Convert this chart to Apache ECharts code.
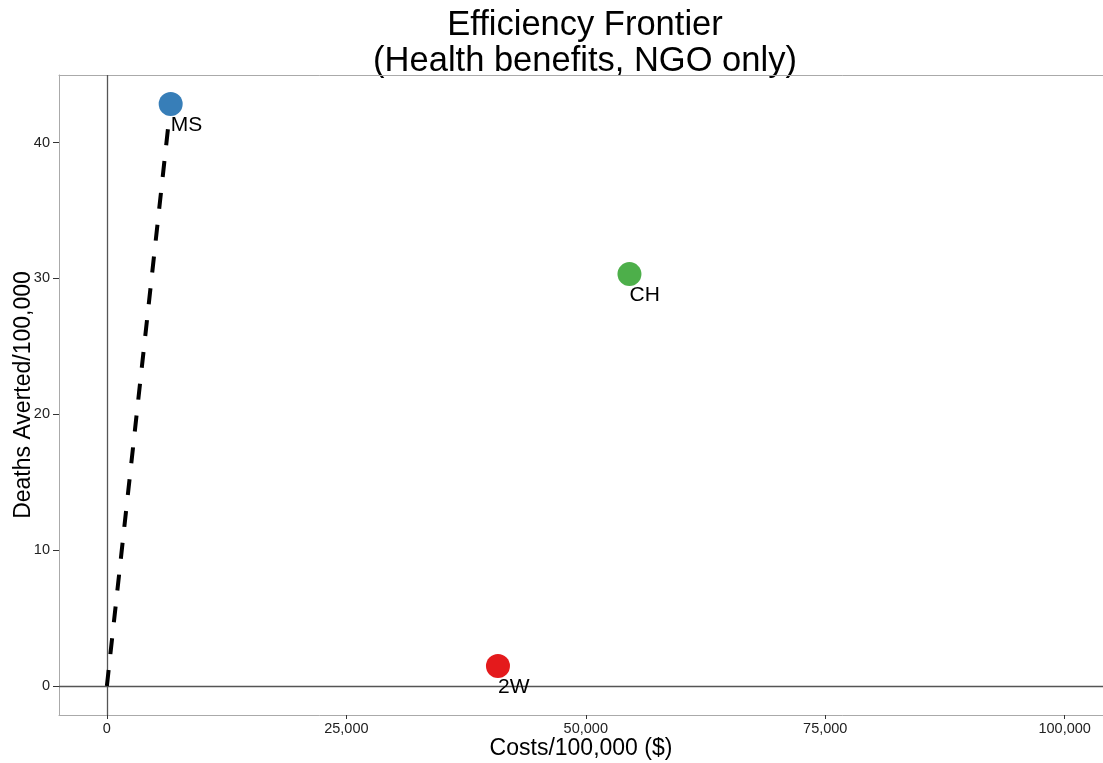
<!DOCTYPE html>
<html>
<head>
<meta charset="utf-8">
<script src="https://cdn.jsdelivr.net/npm/echarts@6/dist/echarts.min.js"></script>
<style>html,body{margin:0;padding:0;background:#fff;}#c{width:1103px;height:763px;}</style>
</head>
<body>
<div id="c"></div>
<script>
var names = ['MS', 'CH', '2W'];
var costs = [6660, 54560, 40830];
var deathsAverted = [42.84, 30.32, 1.47];
var colors = ['#377EB8', '#4DAF4A', '#E41A1C'];
var frontierCosts = [0, 6660];
var frontierDeaths = [0, 42.84];
var xTicks = [0, 25000, 50000, 75000, 100000];
var yTicks = [0, 10, 20, 30, 40];

var FONT = '"Liberation Sans", Arial, Helvetica, sans-serif';
var chart = echarts.init(document.getElementById('c'), null, {renderer: 'canvas'});

var X_MIN = -5000, X_MAX = 104000;

var pointSeries = names.map(function (n, i) {
  return {
    type: 'scatter',
    name: n,
    data: [[costs[i], deathsAverted[i]]],
    symbol: 'circle',
    symbolSize: 24,
    itemStyle: {color: colors[i], opacity: 1},
    label: {
      show: true,
      formatter: n,
      position: [12, 23],
      align: 'left',
      verticalAlign: 'top',
      fontFamily: FONT,
      fontSize: 21,
      color: '#000'
    },
    z: 5
  };
});

var option = {
  animation: false,
  backgroundColor: '#fff',
  textStyle: {fontFamily: FONT},
  grid: {left: 59, right: 0, top: 75, bottom: 48, show: false, containLabel: false, outerBoundsMode: 'none'},
  graphic: [
    {type: 'text', x: 585, y: 8, style: {text: 'Efficiency Frontier', font: '34.5px ' + FONT, fill: '#000', align: 'center', verticalAlign: 'top'}},
    {type: 'text', x: 585, y: 44, style: {text: '(Health benefits, NGO only)', font: '34.5px ' + FONT, fill: '#000', align: 'center', verticalAlign: 'top'}}
  ],
  xAxis: [{
    type: 'value',
    min: X_MIN,
    max: X_MAX,
    name: 'Costs/100,000 ($)',
    nameLocation: 'middle',
    nameGap: 22,
    nameMoveOverlap: false,
    nameTextStyle: {fontFamily: FONT, fontSize: 23, color: '#000'},
    splitLine: {show: false},
    axisLine: {show: true, onZero: false, lineStyle: {color: '#aaa', width: 1}},
    axisTick: {show: true, length: 4, customValues: xTicks, lineStyle: {color: '#333'}},
    axisLabel: {
      customValues: xTicks,
      margin: 6,
      fontFamily: FONT, fontSize: 14.5, color: '#222',
      formatter: function (v) { return Number(v).toLocaleString('en-US'); }
    }
  }, {
    type: 'value',
    position: 'top',
    min: X_MIN,
    max: X_MAX,
    splitLine: {show: false},
    axisLine: {show: true, onZero: false, lineStyle: {color: '#aaa', width: 1}},
    axisTick: {show: false},
    axisLabel: {show: false}
  }],
  yAxis: {
    type: 'value',
    min: -2.14,
    max: 44.98,
    name: 'Deaths Averted/100,000',
    nameLocation: 'middle',
    nameGap: 24,
    nameMoveOverlap: false,
    nameRotate: 90,
    nameTextStyle: {fontFamily: FONT, fontSize: 23, color: '#000'},
    splitLine: {show: false},
    axisLine: {show: true, onZero: false, lineStyle: {color: '#aaa', width: 1}},
    axisTick: {show: true, length: 6, customValues: yTicks, lineStyle: {color: '#333'}},
    axisLabel: {customValues: yTicks, margin: 9, fontFamily: FONT, fontSize: 14.5, color: '#222'}
  },
  series: [
    {
      type: 'line',
      name: 'frontier',
      data: frontierCosts.map(function (c, i) { return [c, frontierDeaths[i]]; }),
      symbol: 'none',
      lineStyle: {color: '#000', width: 4, type: [16, 16]},
      z: 4,
      markLine: {
        silent: true,
        symbol: 'none',
        label: {show: false},
        lineStyle: {color: '#555', width: 1.3, type: 'solid'},
        data: [{xAxis: 0}, {yAxis: 0}],
        z: 1
      }
    }
  ].concat(pointSeries)
};
chart.setOption(option);
</script>
</body>
</html>
